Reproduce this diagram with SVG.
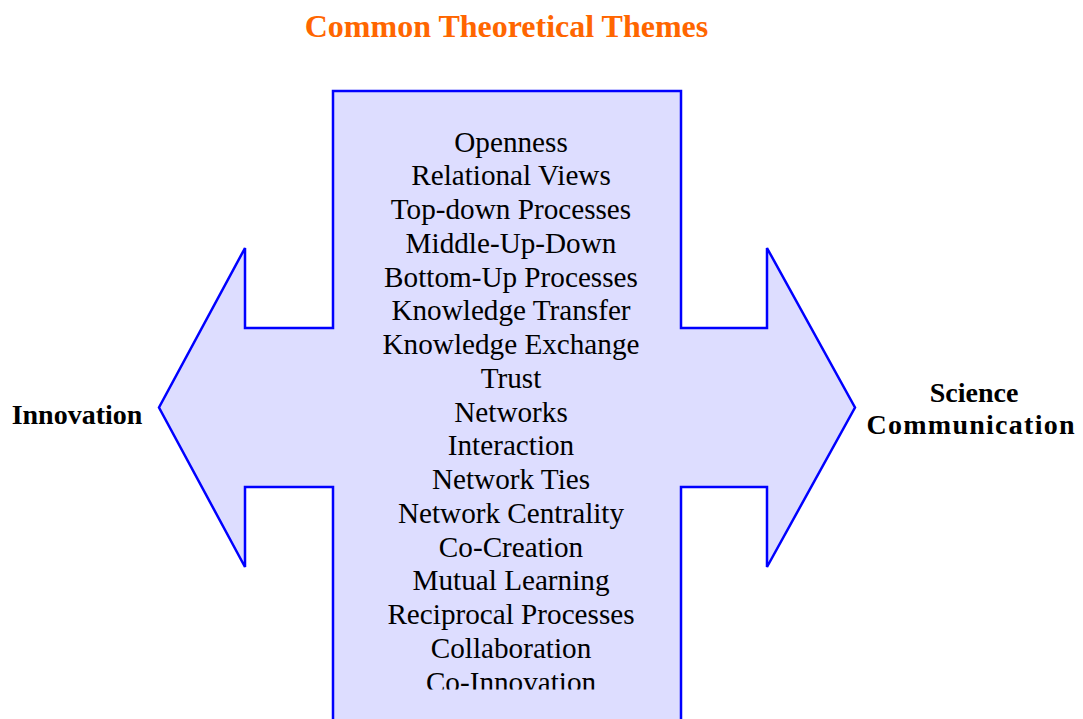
<svg xmlns="http://www.w3.org/2000/svg" width="1083" height="719" viewBox="0 0 1083 719">
<style>
.title{font-family:"Liberation Serif","Times New Roman",serif;font-weight:bold;font-size:32px;fill:#FF6600;text-anchor:middle}
.item{font-family:"Liberation Serif","Times New Roman",serif;font-size:29.2px;fill:#000;text-anchor:middle}
.side{font-family:"Liberation Serif","Times New Roman",serif;font-weight:bold;font-size:28px;fill:#000;text-anchor:middle}
.shape{fill:#DDDDFF;stroke:#0000FF;stroke-width:2.5;stroke-linejoin:miter}
</style>
<defs>
<clipPath id="textclip"><rect x="0" y="0" width="1083" height="689.5"/></clipPath>
</defs>
<rect width="1083" height="719" fill="#FFFFFF"/>
<text class="title" x="506.5" y="37">Common Theoretical Themes</text>
<g id="connectors"></g>
<g id="cross">
<path class="shape" d="M333,91 L681,91 L681,328 L767,328 L767,248 L855,407.5 L767,567 L767,487 L681,487 L681,730 L333,730 L333,487 L245,487 L245,567 L159,407.5 L245,248 L245,328 L333,328 Z"/>
<g clip-path="url(#textclip)">
<text class="item" x="511" y="151.5">Openness</text>
<text class="item" x="511" y="185.25">Relational Views</text>
<text class="item" x="511" y="219">Top-down Processes</text>
<text class="item" x="511" y="252.75">Middle-Up-Down</text>
<text class="item" x="511" y="286.5">Bottom-Up Processes</text>
<text class="item" x="511" y="320.25">Knowledge Transfer</text>
<text class="item" x="511" y="354">Knowledge Exchange</text>
<text class="item" x="511" y="387.75">Trust</text>
<text class="item" x="511" y="421.5">Networks</text>
<text class="item" x="511" y="455.25">Interaction</text>
<text class="item" x="511" y="489">Network Ties</text>
<text class="item" x="511" y="522.75">Network Centrality</text>
<text class="item" x="511" y="556.5">Co-Creation</text>
<text class="item" x="511" y="590.25">Mutual Learning</text>
<text class="item" x="511" y="624">Reciprocal Processes</text>
<text class="item" x="511" y="657.75">Collaboration</text>
<text class="item" x="511" y="691.5">Co-Innovation</text>
</g>
</g>
<g id="innovation">
<text class="side" x="77" y="424">Innovation</text>
</g>
<g id="science-communication">
<text class="side" x="974" y="401.5">Science</text>
<text class="side" x="970.5" y="434" textLength="208" lengthAdjust="spacing">Communication</text>
</g>
</svg>
